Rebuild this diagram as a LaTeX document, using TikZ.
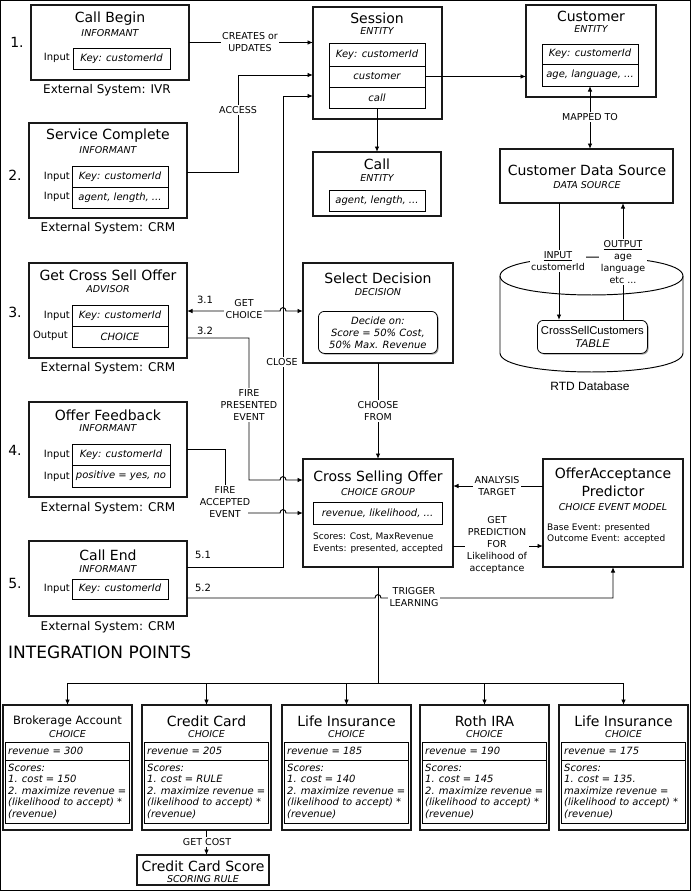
\documentclass[tikz,border=0pt]{standalone}
\usepackage{fontspec}
\setmainfont{DejaVu Sans}
\newfontfamily\arialf{Liberation Sans}
\usetikzlibrary{arrows.meta,shadows}
\newcommand\chbox[6]{%
 \node[box,minimum width=129pt,minimum height=125pt] (#1) at (#2,705) {};
 \node[inner sep=0pt,font=\fontsize{#3}{16}\selectfont] (#1t) at (#2+64.5,721) {#4};
 \node[sub] (#1c) at (#2+64.5,734) {CHOICE};
 \node[inbox,minimum width=124pt,minimum height=18pt] (#1r) at (#2+2,742) {};
 \node[inbox,minimum width=124pt,minimum height=63pt] (#1s) at (#2+2,760) {};
 \node[anchor=west,inner sep=0pt,font=\fontsize{10}{12}\selectfont\itshape] (#1rt) at (#2+5,751) {revenue = #5};
 \node[anchor=north west,inner sep=0pt,align=left,font=\fontsize{10}{11.5}\selectfont\itshape] (#1st) at (#2+5,763.5) {#6};
}
\begin{document}
\begin{tikzpicture}[x=1pt,y=-1pt,
  box/.style={draw=black!90,line width=1.2pt,fill=white,anchor=north west,inner sep=0pt,outer sep=0pt,drop shadow={shadow xshift=1.3pt,shadow yshift=-1.3pt,fill=black!45,opacity=0.8}},
  inbox/.style={draw,line width=0.8pt,anchor=north west,inner sep=0pt,outer sep=0pt,font=\fontsize{10}{12}\selectfont\itshape},
  ttl/.style={inner sep=0pt,font=\fontsize{14}{16}\selectfont},
  sub/.style={inner sep=0pt,font=\fontsize{9.5}{11}\selectfont\itshape},
  inp/.style={inner sep=0pt,anchor=east,font=\fontsize{10}{12}\selectfont},
  num/.style={inner sep=0pt,font=\fontsize{14}{16}\selectfont},
  ext/.style={inner sep=0pt,font=\fontsize{12}{14}\selectfont},
  lbl/.style={fill=white,inner sep=1.5pt,align=center,font=\fontsize{9.5}{11.8}\selectfont},
  small/.style={inner sep=0pt,font=\fontsize{10}{12}\selectfont},
  body/.style={inner sep=0pt,anchor=north west,align=left,font=\fontsize{9}{11.5}\selectfont},
  ln/.style={line width=0.95pt},
  arr/.style={ln,-{Latex[length=5.5pt,width=4.5pt]}},
  darr/.style={ln,{Latex[length=5.5pt,width=4.5pt]}-{Latex[length=5.5pt,width=4.5pt]}},
]
\useasboundingbox (0,0) rectangle (691,891);
\draw[line width=1pt] (0.5,0.5) rectangle (690.5,890.5);

% ---------- left column ----------
\node[box,minimum width=158pt,minimum height=75pt] (callbegin) at (31,5) {};
\node[ttl] (cbT) at (110,19) {Call Begin};
\node[sub] (cbS) at (110,33) {INFORMANT};
\node[inbox,minimum width=97pt,minimum height=21pt] (cbkey) at (73,48) {Key: customerId};
\node[inp] (cbI) at (70,58) {Input};
\node[num] (n1) at (17,42) {1.};
\node[ext] (cbE) at (107,90) {External System: IVR};

\node[box,minimum width=158pt,minimum height=95pt] (servcomp) at (29,123) {};
\node[ttl] (scT) at (108,136) {Service Complete};
\node[sub] (scS) at (108,150) {INFORMANT};
\node[inbox,minimum width=96pt,minimum height=21pt] (sckey) at (72,166) {Key: customerId};
\node[inbox,minimum width=96pt,minimum height=21pt] (scattr) at (72,187) {agent, length, ...};
\node[inp] (scI1) at (70,177) {Input};
\node[inp] (scI2) at (70,197) {Input};
\node[num] (n2) at (15,175) {2.};
\node[ext] (scE) at (108,228) {External System: CRM};

\node[box,minimum width=158pt,minimum height=95pt] (getcross) at (29,263) {};
\node[ttl] (gcT) at (108,275) {Get Cross Sell Offer};
\node[sub] (gcS) at (108,289) {ADVISOR};
\node[inbox,minimum width=96pt,minimum height=21pt] (gckey) at (72,305) {Key: customerId};
\node[inbox,minimum width=96pt,minimum height=21pt] (gcout) at (72,326) {CHOICE};
\node[inp] (gcI) at (70,316) {Input};
\node[inp] (gcO) at (68,336) {Output};
\node[num] (n3) at (15,312) {3.};
\node[ext] (gcE) at (108,368) {External System: CRM};

\node[box,minimum width=158pt,minimum height=95pt] (offerfb) at (29,402) {};
\node[ttl] (ofT) at (108,415) {Offer Feedback};
\node[sub] (ofS) at (108,428) {INFORMANT};
\node[inbox,minimum width=98pt,minimum height=21pt] (ofkey) at (72,444) {Key: customerId};
\node[inbox,minimum width=98pt,minimum height=22pt] (ofpos) at (72,465) {positive = yes, no};
\node[inp] (ofI1) at (70,455) {Input};
\node[inp] (ofI2) at (70,477) {Input};
\node[num] (n4) at (15,450) {4.};
\node[ext] (ofE) at (108,508) {External System: CRM};

\node[box,minimum width=158pt,minimum height=75pt] (callend) at (29,541) {};
\node[ttl] (ceT) at (108,555) {Call End};
\node[sub] (ceS) at (108,569) {INFORMANT};
\node[inbox,minimum width=96pt,minimum height=20pt] (cekey) at (72,579) {Key: customerId};
\node[inp] (ceI) at (70,589) {Input};
\node[num] (n5) at (15,583) {5.};
\node[ext] (ceE) at (108,627) {External System: CRM};

% ---------- middle column ----------
\node[box,minimum width=129pt,minimum height=112pt] (session) at (313,7) {};
\node[ttl] (seT) at (377,18) {Session};
\node[sub] (seS) at (377,31) {ENTITY};
\node[inbox,minimum width=96pt,minimum height=23pt] (sesskey) at (329,43) {Key: customerId};
\node[inbox,minimum width=96pt,minimum height=21pt] (sesscust) at (329,66) {customer};
\node[inbox,minimum width=96pt,minimum height=21pt] (sesscall) at (329,87) {call};

\node[box,minimum width=128pt,minimum height=64pt] (call) at (313,152) {};
\node[ttl] (caT) at (377,164) {Call};
\node[sub] (caS) at (377,178) {ENTITY};
\node[inbox,minimum width=96pt,minimum height=21pt] (callattr) at (329,190) {agent, length, ...};

\node[box,minimum width=150pt,minimum height=100pt] (select) at (303,263) {};
\node[ttl] (sdT) at (378,278) {Select Decision};
\node[sub] (sdS) at (378,292) {DECISION};
\node[draw,line width=0.8pt,rounded corners=6pt,fill=white,anchor=north west,inner sep=0pt,
      minimum width=119pt,minimum height=42pt,align=center,
      drop shadow={shadow xshift=1.2pt,shadow yshift=-1.2pt,fill=black!45,opacity=0.8},
      font=\fontsize{10}{12}\selectfont\itshape] (selin) at (318,311) {Decide on:\\Score = 50\% Cost,\\50\% Max. Revenue};

\node[box,minimum width=150pt,minimum height=108pt] (cso) at (303,459) {};
\node[ttl] (csT) at (378,478) {Cross Selling Offer};
\node[sub] (csS) at (378,492) {CHOICE GROUP};
\node[inbox,minimum width=129pt,minimum height=22pt] (csoin) at (313,502) {revenue, likelihood, ...};
\node[body] (csB) at (313,533) {Scores: Cost, MaxRevenue\\Events: presented, accepted};

% ---------- right column ----------
\node[box,minimum width=130pt,minimum height=92pt] (customer) at (526,5) {};
\node[ttl] (cuT) at (591,16) {Customer};
\node[sub] (cuS) at (591,29) {ENTITY};
\node[inbox,minimum width=96pt,minimum height=20pt] (custkey) at (542,44) {Key: customerId};
\node[inbox,minimum width=96pt,minimum height=22pt] (custattr) at (542,64) {age, language, ...};

\node[box,minimum width=173pt,minimum height=54pt] (cds) at (500,149) {};
\node[ttl] (cdT) at (587,170) {Customer Data Source};
\node[sub] (cdS) at (587,185) {DATA SOURCE};

% cylinder
\draw[ln] (500,276) .. controls (500,250.7) and (683,250.7) .. (683,276)
          .. controls (683,301.3) and (500,301.3) .. (500,276);
\draw[ln] (500,276) -- (500,353) .. controls (500,378.3) and (683,378.3) .. (683,353) -- (683,276);
\node[draw,line width=0.8pt,rounded corners=6pt,fill=white,anchor=north west,inner sep=0pt,
      minimum width=110pt,minimum height=33pt,align=center,
      drop shadow={shadow xshift=1.2pt,shadow yshift=-1.2pt,fill=black!45,opacity=0.8},
      font=\arialf\fontsize{11.3}{13}\selectfont] (table) at (537,320) {CrossSellCustomers\\\textit{TABLE}};
\node[inner sep=0pt,font=\arialf\fontsize{12}{14}\selectfont] (rtd) at (590,386) {RTD Database};

\node[box,minimum width=140pt,minimum height=108pt] (oap) at (543,459) {};
\node[ttl] (oaT1) at (613,475) {OfferAcceptance};
\node[ttl] (oaT2) at (613,491) {Predictor};
\node[sub] (oaS) at (613,507) {CHOICE EVENT MODEL};
\node[body] (oaB) at (547,523) {Base Event: presented\\Outcome Event: accepted};

% ---------- integration points ----------
\node[anchor=west,inner sep=0pt,font=\fontsize{17}{19}\selectfont] (ip) at (8,652) {INTEGRATION POINTS};

\chbox{chA}{3}{11.5}{Brokerage Account}{300}{Scores:\\1. cost = 150\\2. maximize revenue =\\(likelihood to accept) *\\(revenue)}
\chbox{chB}{142}{14}{Credit Card}{205}{Scores:\\1. cost = RULE\\2. maximize revenue =\\(likelihood to accept) *\\(revenue)}
\chbox{chC}{282}{14}{Life Insurance}{185}{Scores:\\1. cost = 140\\2. maximize revenue =\\(likelihood to accept) *\\(revenue)}
\chbox{chD}{420}{14}{Roth IRA}{190}{Scores:\\1. cost = 145\\2. maximize revenue =\\(likelihood to accept) *\\(revenue)}
\chbox{chE}{559}{14}{Life Insurance}{175}{Scores:\\1. cost = 135.\\maximize revenue =\\(likelihood to accept) *\\(revenue)}

\node[box,minimum width=132pt,minimum height=30pt] (ccs) at (137,855) {};
\node[ttl] (ccT) at (203,866) {Credit Card Score};
\node[sub] (ccS) at (203,879) {SCORING RULE};

% ---------- connectors ----------
\draw[arr] (callbegin.east) -- (session.west |- callbegin.east);
\coordinate (accK) at (238,75);
\draw[arr] (servcomp.east |- 0,172) -| (accK) -- (session.west |- accK);
\draw[arr] (sesscust.east) -- (customer.west |- sesscust.east);
\draw[arr] (sesscall.south) -- (call.north);
\draw[darr] (custattr.south) -- (cds.north -| custattr.south);
\draw[arr] (cds.south -| 559,0) -- (table.north -| 559,0);
\draw[arr] (table.north -| 623,0) -- (cds.south -| 623,0);

% 5.1 close
\coordinate (clK) at (283,96);
\draw[arr] (callend.east |- 0,567) -| (clK) -- (session.west |- clK);
% 3.1 get choice
\draw[darr] (getcross.east |- 0,311) -- (280,311) .. controls (280,306.5) and (286,306.5) .. (286,311) -- (select.west |- 0,311);
% 3.2 fire presented
\coordinate (fp1) at (249,338);
\coordinate (fp2) at (249,480);
\draw[arr] (getcross.east |- fp1) -- (fp1) -- (fp2) -- (280,480) .. controls (280,475.5) and (286,475.5) .. (286,480) -- (cso.west |- fp2);
% 4 fire accepted
\node[lbl] (fa) at (225,502) {FIRE\\ACCEPTED\\EVENT};
\draw[ln] (offerfb.east |- 0,449) -| (fa.north);
\coordinate (faout) at (248,513);
\draw[arr] (faout) -- (280,513) .. controls (280,508.5) and (286,508.5) .. (286,513) -- (cso.west |- faout);
% 5.2 trigger learning
\coordinate (tlK) at (613,598);
\draw[arr] (callend.east |- 0,598) -- (375,598) .. controls (375,593.5) and (381,593.5) .. (381,598) -- (tlK) -- (oap.south -| tlK);
% choose from
\draw[arr] (select.south) -- (cso.north);
\draw[arr] (oap.west |- 0,486) -- (cso.east |- 0,486);
\draw[arr] (cso.east |- 0,546) -- (oap.west |- 0,546);
% tree
\coordinate (trK) at (378,683);
\draw[ln] (cso.south) -- (trK);
\draw[ln] (chA.north |- trK) -- (chE.north |- trK);
\foreach \c in {chA,chB,chC,chD,chE} {\draw[arr] (\c.north |- trK) -- (\c.north);}
\draw[arr] (chB.south) -- (ccs.north -| chB.south);

% ---------- labels ----------
\node[lbl] (lCre) at (250,42) {CREATES or\\UPDATES};
\node[lbl] (lAcc) at (238,110) {ACCESS};
\node[lbl] (lMap) at (590,117) {MAPPED TO};
\node[lbl] (lIn) at (558,261) {\underline{INPUT}\\customerId};
\node[lbl] (lOut) at (623,262) {\underline{OUTPUT}\\age\\language\\etc ...};
\node[lbl] (lGet) at (244,309) {GET\\CHOICE};
\node[small] (l31) at (205,300) {3.1};
\node[small] (l32) at (205,331) {3.2};
\node[lbl] (lFp) at (249,405) {FIRE\\PRESENTED\\EVENT};
\node[lbl] (lClose) at (282,362) {CLOSE};
\node[lbl] (lCh) at (378,411) {CHOOSE\\FROM};
\node[small] (l51) at (203,555) {5.1};
\node[small] (l52) at (203,588) {5.2};
\node[lbl] (lAn) at (497,486) {ANALYSIS\\TARGET};
\node[lbl] (lPr) at (497,545) {GET\\PREDICTION\\FOR\\Likelihood of\\acceptance};
\node[lbl] (lTr) at (414,597) {TRIGGER\\LEARNING};
\node[lbl] (lCost) at (207,842) {GET COST};
\end{tikzpicture}
\end{document}
